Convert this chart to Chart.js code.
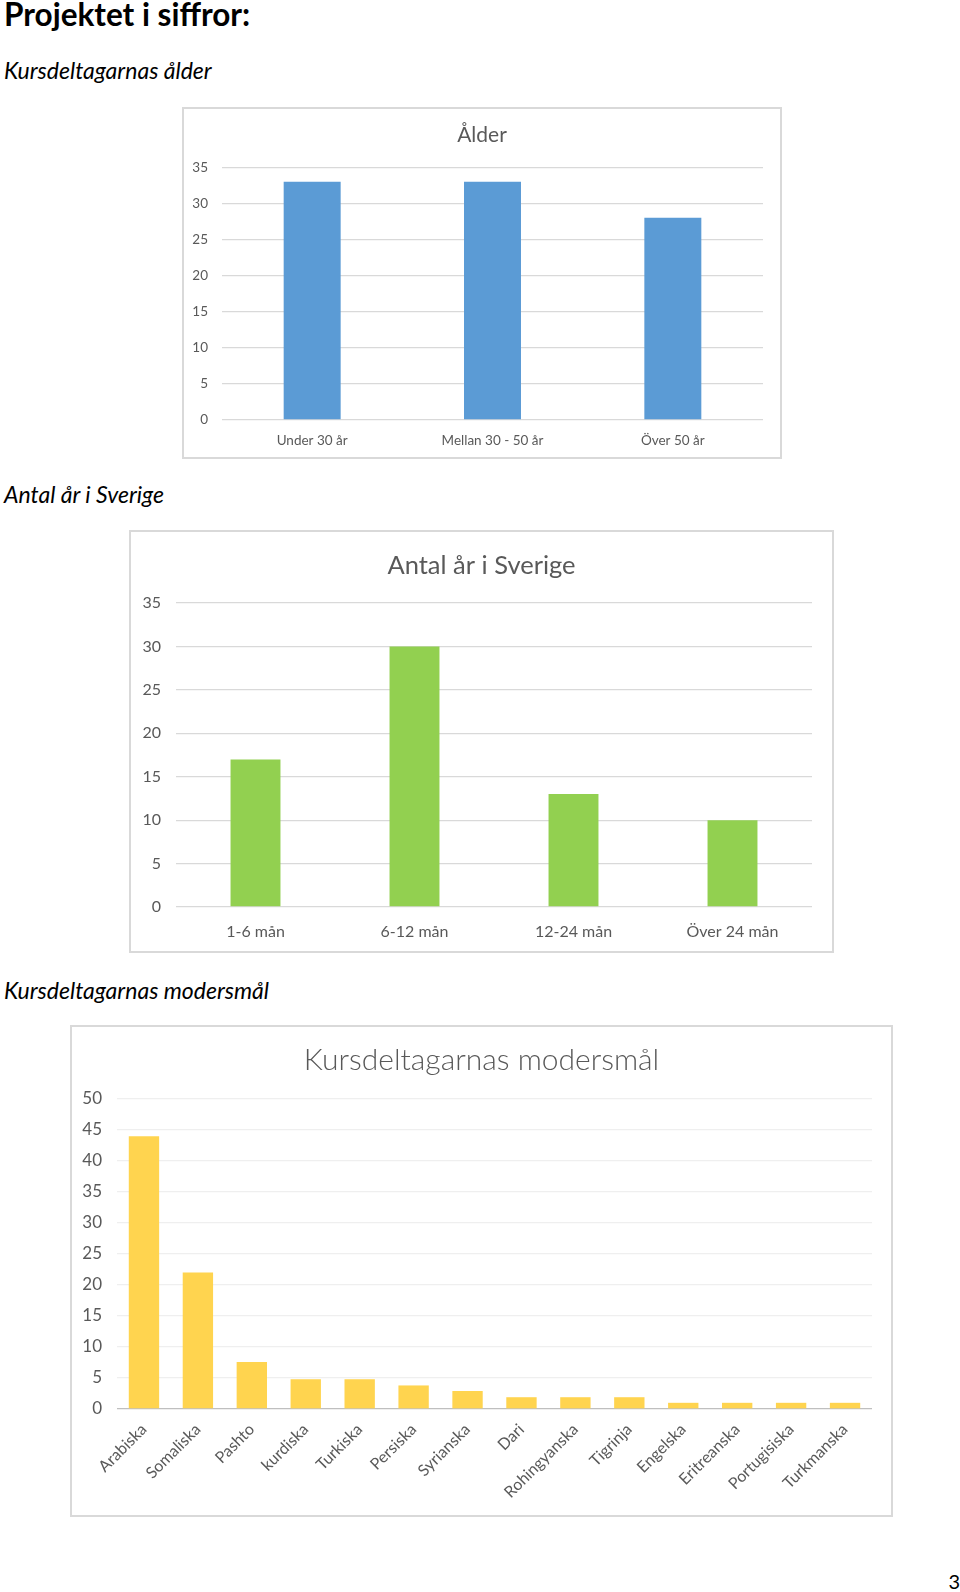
<!DOCTYPE html>
<html lang="sv">
<head>
<meta charset="utf-8">
<title>Projektet i siffror</title>
<script src="https://cdn.jsdelivr.net/npm/chart.js@4.4.1/dist/chart.umd.min.js"></script>
<style>
  html, body { margin: 0; padding: 0; background: #fff; }
  body { width: 960px; height: 1592px; position: relative; overflow: hidden; font-family: Lato, sans-serif; }
  .txt { position: absolute; left: 4px; white-space: nowrap; line-height: 1.2; color: #000; }
  .h1 { top: -4px; font-size: 31.5px; font-weight: bold; }
  .h2 { font-size: 23px; font-style: italic; }
  .box { position: absolute; border: 2px solid #d9d9d9; box-sizing: border-box; background: #fff; }
  .box canvas { position: absolute; left: 0; top: 0; }
  .page { position: absolute; right: 0; top: 1569px; font-size: 20px; line-height: 1.2; }
</style>
</head>
<body>
<div class="txt h1">Projektet i siffror:</div>
<div class="txt h2" style="top:57px">Kursdeltagarnas ålder</div>
<div class="box" style="left:182px;top:107px;width:600px;height:352px"><canvas id="alderChart" width="596" height="348"></canvas></div>
<div class="txt h2" style="top:481px">Antal år i Sverige</div>
<div class="box" style="left:129px;top:530px;width:705px;height:423px"><canvas id="sverigeChart" width="701" height="419"></canvas></div>
<div class="txt h2" style="top:977px">Kursdeltagarnas modersmål</div>
<div class="box" style="left:70px;top:1025px;width:823px;height:492px"><canvas id="sprakChart" width="819" height="488"></canvas></div>
<div class="page">3</div>

<script>
// Ålder
const alderLabels = ["Under 30 år", "Mellan 30 - 50 år", "Över 50 år"];
const alderValues = [33, 33, 28];

// Antal år i Sverige
const sverigeLabels = ["1-6 mån", "6-12 mån", "12-24 mån", "Över 24 mån"];
const sverigeValues = [17, 30, 13, 10];

// Modersmål
const sprakLabels = ["Arabiska", "Somaliska", "Pashto", "kurdiska", "Turkiska", "Persiska", "Syrianska",
  "Dari", "Rohingyanska", "Tigrinja", "Engelska", "Eritreanska", "Portugisiska", "Turkmanska"];
const sprakValues = [44, 22, 7.6, 4.8, 4.8, 3.8, 2.9, 1.9, 1.9, 1.9, 1, 1, 1, 1];

const gray = "#595959";

function barChart(id, labels, values, o) {
  const ctx = document.getElementById(id).getContext("2d");
  return new Chart(ctx, {
    type: "bar",
    data: {
      labels: labels,
      datasets: [{
        data: values,
        backgroundColor: o.color,
        borderWidth: 0,
        categoryPercentage: 1,
        barPercentage: o.bar,
      }],
    },
    options: {
      responsive: false,
      animation: false,
      layout: { padding: 0 },
      plugins: {
        legend: { display: false },
        tooltip: { enabled: false },
        title: {
          display: true,
          text: o.title,
          color: gray,
          font: { family: "Lato", size: o.titleSize, weight: o.titleWeight },
          padding: { top: o.titleTop, bottom: o.titleBottom },
        },
      },
      scales: {
        x: {
          grid: { display: false, drawTicks: false },
          border: { display: false },
          ticks: {
            color: gray,
            font: { family: "Lato", size: o.xFont },
            padding: o.xPad,
            maxRotation: o.rot,
            minRotation: o.rot,
            autoSkip: false,
          },
          afterFit: (s) => { s.height = o.xHeight; },
        },
        y: {
          min: 0,
          max: o.max,
          grid: { color: o.gridColor, drawTicks: false, lineWidth: 1.3 },
          border: { display: false },
          ticks: {
            stepSize: 5,
            color: gray,
            font: { family: "Lato", size: o.yFont },
            padding: o.yPad,
          },
          afterFit: (s) => { s.width = o.yWidth; },
        },
        // empty right-hand axis, only keeps the gap on the right so the title stays centred in the box
        spacer: {
          type: "linear",
          position: "right",
          grid: { display: false, drawTicks: false },
          border: { display: false },
          ticks: { display: false },
          afterFit: (s) => { s.width = o.right; },
        },
      },
    },
  });
}

document.addEventListener("DOMContentLoaded", () => {
  barChart("alderChart", alderLabels, alderValues, {
    title: "Ålder", titleSize: 21, titleWeight: "400", titleTop: 14, titleBottom: 19,
    color: "#5B9BD5", bar: 0.316, right: 17, max: 35,
    xFont: 13.5, xPad: 13, xHeight: 37, rot: 0,
    yFont: 13.5, yPad: 14, yWidth: 38, gridColor: "#d9d9d9",
  });

  barChart("sverigeChart", sverigeLabels, sverigeValues, {
    title: "Antal år i Sverige", titleSize: 25.5, titleWeight: "400", titleTop: 18, titleBottom: 22.5,
    color: "#92D050", bar: 0.314, right: 20, max: 35,
    xFont: 16, xPad: 15, xHeight: 44, rot: 0,
    yFont: 16, yPad: 15, yWidth: 45, gridColor: "#d9d9d9",
  });

  barChart("sprakChart", sprakLabels, sprakValues, {
    title: "Kursdeltagarnas modersmål", titleSize: 30, titleWeight: "300", titleTop: 15, titleBottom: 21,
    color: "#FFD44F", bar: 0.563, right: 19, max: 50,
    xFont: 16, xPad: 11, xHeight: 106, rot: 45,
    yFont: 17, yPad: 15, yWidth: 45,
    gridColor: (c) => (c.tick && c.tick.value === 0 ? "#bfbfbf" : "#efefef"),
  });
});
</script>
</body>
</html>
